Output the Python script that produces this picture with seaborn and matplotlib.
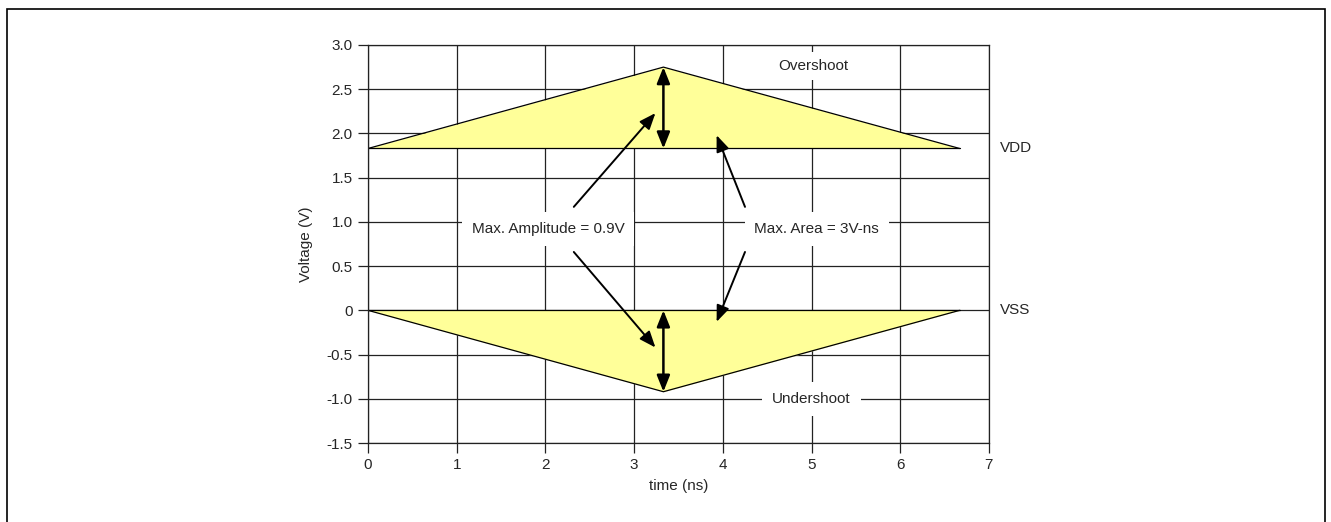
import numpy as np
import pandas as pd
import matplotlib.pyplot as plt
import matplotlib.patches as patches
import seaborn as sns

# data
t_pts = [0, 3.33, 6.67]
over_v = [1.83, 2.75, 1.83]
under_v = [0, -0.92, 0]
vdd = 1.83
vss = 0
x_ticks = [0, 1, 2, 3, 4, 5, 6, 7]
y_ticks = [-1.5, -1.0, -0.5, 0, 0.5, 1.0, 1.5, 2.0, 2.5, 3.0]
y_labels = ['-1.5', '-1.0', '-0.5', '0', '0.5', '1.0', '1.5', '2.0', '2.5', '3.0']

sns.set_style('white')
plt.rcParams['font.family'] = ['Liberation Sans', 'DejaVu Sans']
plt.rcParams['font.size'] = 11

df = pd.DataFrame({'t': t_pts + t_pts,
                   'v': over_v + under_v,
                   'part': ['over'] * 3 + ['under'] * 3})

fig = plt.figure(figsize=(13.31, 5.22), dpi=100)
ax = fig.add_axes([0.2765, 0.1513, 0.4665, 0.7625])

# grid
for xv in x_ticks:
    ax.axvline(xv, color='#222222', lw=0.9, zorder=0)
for yv in y_ticks:
    ax.axhline(yv, color='#222222', lw=0.9, zorder=0)

# yellow triangles
ax.fill_between(t_pts, vdd, over_v, color='#ffff99', zorder=1, lw=0)
ax.fill_between(t_pts, vss, under_v, color='#ffff99', zorder=1, lw=0)
sns.lineplot(data=df, x='t', y='v', units='part', estimator=None,
             color='black', lw=0.9, ax=ax, zorder=2, sort=False)
ax.plot([t_pts[0], t_pts[-1]], [vdd, vdd], color='black', lw=0.9, zorder=2)
ax.plot([t_pts[0], t_pts[-1]], [vss, vss], color='black', lw=0.9, zorder=2)

# double arrows for the amplitude
dbl = dict(arrowstyle='<|-|>,head_length=0.7,head_width=0.28', color='black', lw=1.8,
           mutation_scale=14, shrinkA=0, shrinkB=0)
ax.annotate('', xy=(t_pts[1], over_v[1]), xytext=(t_pts[1], vdd), arrowprops=dbl, zorder=4)
ax.annotate('', xy=(t_pts[1], under_v[1]), xytext=(t_pts[1], vss), arrowprops=dbl, zorder=4)

# pointer arrows
ptr = dict(arrowstyle='-|>,head_length=0.7,head_width=0.28', color='black', lw=1.4,
           mutation_scale=14, shrinkA=0, shrinkB=0)
ax.annotate('', xy=(3.24, 2.23), xytext=(2.32, 1.17), arrowprops=ptr, zorder=4)
ax.annotate('', xy=(3.24, -0.42), xytext=(2.32, 0.66), arrowprops=ptr, zorder=4)
ax.annotate('', xy=(3.93, 1.98), xytext=(4.25, 1.17), arrowprops=ptr, zorder=4)
ax.annotate('', xy=(3.93, -0.13), xytext=(4.25, 0.66), arrowprops=ptr, zorder=4)

box = dict(facecolor='white', edgecolor='none', pad=7)
ax.text(2.03, 0.92, 'Max. Amplitude = 0.9V', ha='center', va='center', bbox=box, zorder=5)
ax.text(5.06, 0.92, 'Max. Area = 3V-ns', ha='center', va='center', bbox=box, zorder=5)
ax.text(5.02, 2.76, 'Overshoot', ha='center', va='center',
        bbox=dict(facecolor='white', edgecolor='none', pad=5), zorder=5)
ax.text(5.0, -1.0, 'Undershoot', ha='center', va='center',
        bbox=dict(facecolor='white', edgecolor='none', pad=7), zorder=5)
ax.text(7.12, vdd, 'VDD', ha='left', va='center', clip_on=False)
ax.text(7.12, vss, 'VSS', ha='left', va='center', clip_on=False)

ax.set_xlim(0, 7)
ax.set_ylim(-1.5, 3.0)
ax.set_xticks(x_ticks)
ax.set_yticks(y_ticks)
ax.set_yticklabels(y_labels)
ax.tick_params(axis='both', direction='out', length=7, width=0.9, color='#222222',
               left=True, bottom=True, labelsize=11, pad=4)
ax.set_xlabel('time (ns)', fontsize=11, labelpad=5)
ax.set_ylabel('Voltage (V)', fontsize=11, labelpad=10)
for s in ax.spines.values():
    s.set_color('#222222')
    s.set_linewidth(0.9)

# outer frame
fig.patches.append(patches.Rectangle((7 / 1331, -0.1), 1318 / 1331, 0.9828 + 0.1,
                                     transform=fig.transFigure, fill=False,
                                     edgecolor='black', lw=1.2))

fig.savefig('out.png', dpi=100)
